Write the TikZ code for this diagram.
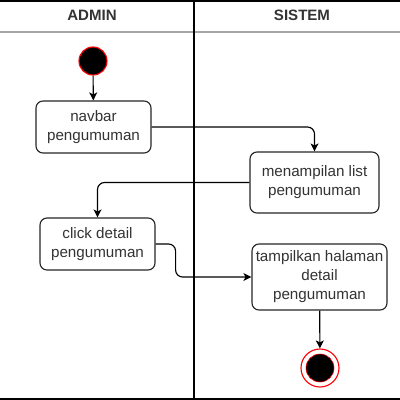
\documentclass[tikz,border=0pt]{standalone}
\usepackage{fontspec}
\setmainfont{Liberation Sans}
\usetikzlibrary{arrows.meta, positioning}
\definecolor{cred}{HTML}{FF0000}
\definecolor{cdark}{HTML}{333333}
\tikzset{
  every picture/.style={font=\fontsize{10.8}{13.5}\selectfont, line width=0.8pt},
  box/.style={draw=black!85, fill=white, rounded corners=5pt, align=center, text=cdark, inner sep=2pt},
  arrow/.style={-{Stealth[length=2mm, width=2mm, inset=0.5mm]}, draw=black, rounded corners=5pt},
  title/.style={font=\fontsize{10.7}{13}\selectfont\bfseries, text=cdark},
  start/.style={circle, fill=black, draw=cred, minimum size=0.7cm, inner sep=0pt},
  finish/.style={circle, draw=cred, fill=white, minimum size=0.95cm, inner sep=0pt,
    path picture={\draw[cred, fill=black, line width=0.4pt] (path picture bounding box.center) circle (0.35cm);}},
}

\begin{document}
\begin{tikzpicture}[x=0.025cm, y=-0.025cm]
  \useasboundingbox (0,0) rectangle (400,400);
  % swimlanes
  \draw[line width=1.5pt] (0,1) -- (400,1);
  \draw[line width=1.5pt] (0,399) -- (400,399);
  \draw[black!35] (0,32) -- (400,32);
  \draw[line width=1.2pt] (194,0) -- (194,400);
  \node[title] (admin) at (92,15) {ADMIN};
  \node[title] (sistem) at (302,15) {SISTEM};
  % activities
  \node[start] (start) at (93,61) {};
  \node[box, minimum width=2.875cm, minimum height=1.3cm] (nav) at (93.5,127) {navbar\\pengumuman};
  \node[box, minimum width=3.225cm, minimum height=1.525cm] (list) at (314.5,182.5) {menampilan list\\pengumuman};
  \node[box, minimum width=2.875cm, minimum height=1.3cm] (click) at (97.5,244) {click detail\\pengumuman};
  \node[box, minimum width=3.375cm, minimum height=1.65cm] (detail) at (319.5,277) {tampilkan halaman\\detail\\pengumuman};
  \node[finish] (end) at (320,368) {};
  % flow
  \draw[arrow] (start) -- (nav);
  \draw[arrow] (nav.east) -| (list.north);
  \draw[arrow] (list.west) -| (click.north);
  \draw[arrow] (click.east) -- ++(20,0) |- (detail.west);
  \draw[arrow] (detail) -- (end);
\end{tikzpicture}
\end{document}
